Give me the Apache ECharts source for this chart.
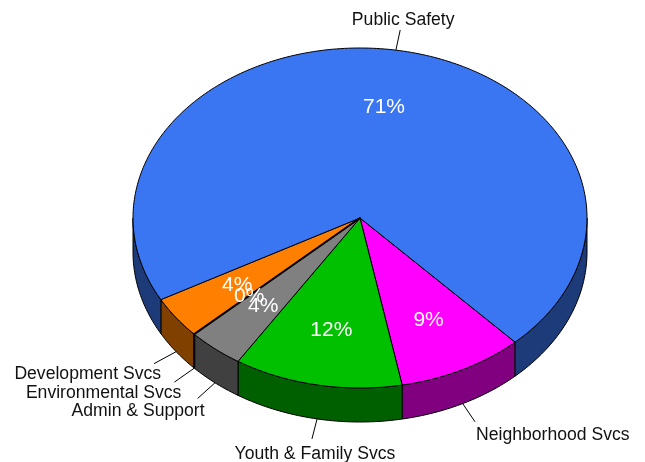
<!DOCTYPE html>
<html>
<head>
<meta charset="utf-8">
<style>html,body{margin:0;padding:0;background:#fff}#chart{width:645px;height:462px}</style>
<script src="https://cdn.jsdelivr.net/npm/echarts@6/dist/echarts.min.js"></script>
</head>
<body>
<div id="chart"></div>
<script>
// Budget shares by department, clockwise from the Neighborhood slice
const categories = ['Neighborhood Svcs', 'Youth & Family Svcs', 'Admin & Support', 'Environmental Svcs', 'Development Svcs', 'Public Safety'];
const shares = [9, 12, 4, 0, 4, 71];
const topColors = ['#ff00ff', '#00c000', '#808080', '#808080', '#ff8000', '#3a76f2'];
const wallColors = ['#800080', '#006000', '#404040', '#404040', '#804000', '#1d3b79'];

// Tilted-disc geometry
const CX = 360, CY = 218, RX = 227, RY = 170, DEPTH = 34, START_DEG = 46.9;
const LABEL_RADIUS = 0.668, LEADER_EXT = 1.12;
const FONT = '"Liberation Sans", Arial, sans-serif';

const total = shares.reduce((a, b) => a + b, 0);
let running = START_DEG;
const slices = shares.map(v => {
  const from = running;
  running += v / total * 360;
  return { from, to: running, mid: (from + running) / 2 };
});

const rad = d => d * Math.PI / 180;
const rim = (deg, k, dy) => [CX + k * RX * Math.cos(rad(deg)), CY + k * RY * Math.sin(rad(deg)) + dy];
function arc(from, to, dy) {
  const n = Math.max(1, Math.ceil(Math.abs(to - from)));
  const pts = [];
  for (let i = 0; i <= n; i++) pts.push(rim(from + (to - from) * i / n, 1, dy));
  return pts;
}

// Parts of a slice's rim that face the viewer (0..180 degrees, modulo a turn)
function frontRanges(s) {
  const out = [];
  [0, 360].forEach(off => {
    const a = Math.max(s.from, off), b = Math.min(s.to, off + 180);
    if (b >= a) out.push([a, b]);
  });
  return out;
}

function renderWall(params) {
  const i = params.dataIndex;
  return {
    type: 'group',
    children: frontRanges(slices[i]).map(([a, b]) => ({
      type: 'polygon',
      z2: shares[i] === 0 ? 2 : 1,
      shape: { points: arc(a, b, 0).concat(arc(b, a, DEPTH)) },
      style: { fill: wallColors[i], stroke: '#000', lineWidth: shares[i] === 0 ? 2 : 1 }
    }))
  };
}

function renderTop(params) {
  const i = params.dataIndex, s = slices[i];
  return {
    type: 'polygon',
    z2: shares[i] === 0 ? 2 : 1,
    shape: { points: [[CX, CY]].concat(arc(s.from, s.to, 0)) },
    style: { fill: topColors[i], stroke: '#000', lineWidth: shares[i] === 0 ? 2 : 1, lineJoin: 'round' }
  };
}

function renderLabels(params, api) {
  const i = params.dataIndex, s = slices[i];
  const c = Math.cos(rad(s.mid)), sn = Math.sin(rad(s.mid)), front = sn > 0;
  const dy = front ? DEPTH : 0;
  const p0 = rim(s.mid, 1, dy), p1 = rim(s.mid, LEADER_EXT, dy);
  const inner = rim(s.mid, LABEL_RADIUS, 1);
  let align = 'center', tx = p1[0] + 3;
  if (front && c > 0.3) { align = 'left'; tx = p1[0] + 1; }
  if (front && c < -0.3) { align = 'right'; tx = p1[0] + 7; }
  const ty = front ? p1[1] + 4 + 11 * sn : p1[1] - 10;
  return {
    type: 'group',
    children: [
      { type: 'line', shape: { x1: p0[0], y1: p0[1], x2: p1[0], y2: p1[1] }, style: { stroke: '#000', lineWidth: 1 } },
      { type: 'text', style: { text: categories[i], x: tx, y: ty, align, verticalAlign: 'middle', fill: '#111', font: '17.6px ' + FONT } },
      { type: 'text', style: { text: Math.round(api.value(0)) + '%', x: inner[0], y: inner[1], align: 'center', verticalAlign: 'middle', fill: '#fff', font: '21px ' + FONT } }
    ]
  };
}

const seriesData = shares.map(v => [v]);
const chart = echarts.init(document.getElementById('chart'), null, { renderer: 'canvas' });
chart.setOption({
  backgroundColor: '#ffffff',
  animation: false,
  series: [
    { type: 'custom', coordinateSystem: 'none', silent: true, z: 1, data: seriesData, renderItem: renderWall },
    { type: 'custom', coordinateSystem: 'none', silent: true, z: 2, data: seriesData, renderItem: renderTop },
    { type: 'custom', coordinateSystem: 'none', silent: true, z: 3, data: seriesData, renderItem: renderLabels }
  ]
});
</script>
</body>
</html>
